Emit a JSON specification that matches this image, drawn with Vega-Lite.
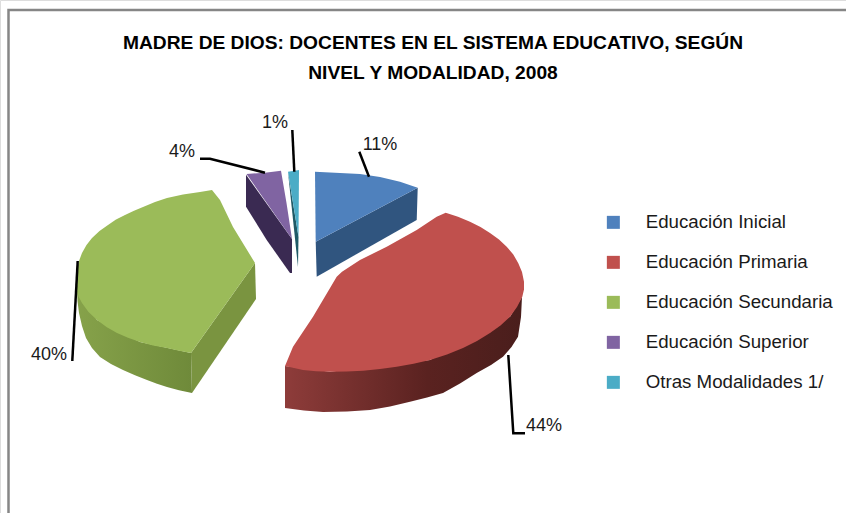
{
"$schema":"https://vega.github.io/schema/vega-lite/v6.json",
"width":846,"height":513,"padding":0,"autosize":"none",
"background":"#ffffff",
"title":{"text":["MADRE DE DIOS: DOCENTES EN EL SISTEMA  EDUCATIVO, SEGÚN","NIVEL Y MODALIDAD, 2008"],"anchor":"middle","dx":10,"dy":87,"font":"Liberation Sans","fontSize":19.2,"fontWeight":"bold","color":"#000000","lineHeight":30},
"datasets":{
"top":[
{"s":"Educación Inicial","i":1,"x":315,"y":171.7},{"s":"Educación Inicial","i":2,"x":360,"y":174},{"s":"Educación Inicial","i":3,"x":380,"y":177},{"s":"Educación Inicial","i":4,"x":400,"y":181.7},{"s":"Educación Inicial","i":5,"x":417.7,"y":187.7},{"s":"Educación Inicial","i":6,"x":315.7,"y":241.7},
{"s":"Educación Primaria","i":1,"x":445.7,"y":212.7},{"s":"Educación Primaria","i":2,"x":458,"y":216.7},{"s":"Educación Primaria","i":3,"x":470,"y":221.7},{"s":"Educación Primaria","i":4,"x":480.5,"y":227},{"s":"Educación Primaria","i":5,"x":490,"y":233},{"s":"Educación Primaria","i":6,"x":499,"y":239.5},{"s":"Educación Primaria","i":7,"x":506.7,"y":246.7},{"s":"Educación Primaria","i":8,"x":513.3,"y":254.5},{"s":"Educación Primaria","i":9,"x":518.3,"y":263.3},{"s":"Educación Primaria","i":10,"x":522,"y":272},{"s":"Educación Primaria","i":11,"x":524,"y":281.7},{"s":"Educación Primaria","i":12,"x":524,"y":289.5},{"s":"Educación Primaria","i":13,"x":522.3,"y":296.7},{"s":"Educación Primaria","i":14,"x":517,"y":307},{"s":"Educación Primaria","i":15,"x":510,"y":316.7},{"s":"Educación Primaria","i":16,"x":500.5,"y":325.5},{"s":"Educación Primaria","i":17,"x":490,"y":333},{"s":"Educación Primaria","i":18,"x":477,"y":341},{"s":"Educación Primaria","i":19,"x":463,"y":348},{"s":"Educación Primaria","i":20,"x":447,"y":354.5},{"s":"Educación Primaria","i":21,"x":430,"y":360},{"s":"Educación Primaria","i":22,"x":413.5,"y":363.8},{"s":"Educación Primaria","i":23,"x":396.7,"y":366.7},{"s":"Educación Primaria","i":24,"x":380,"y":369},{"s":"Educación Primaria","i":25,"x":363,"y":370.7},{"s":"Educación Primaria","i":26,"x":346.5,"y":371.5},{"s":"Educación Primaria","i":27,"x":330,"y":371.7},{"s":"Educación Primaria","i":28,"x":316,"y":371.2},{"s":"Educación Primaria","i":29,"x":303,"y":370},{"s":"Educación Primaria","i":30,"x":285,"y":366},{"s":"Educación Primaria","i":31,"x":293,"y":346.7},{"s":"Educación Primaria","i":32,"x":313,"y":316.7},{"s":"Educación Primaria","i":33,"x":336.7,"y":276.7},{"s":"Educación Primaria","i":34,"x":342,"y":271.7},{"s":"Educación Primaria","i":35,"x":360,"y":260},{"s":"Educación Primaria","i":36,"x":386.7,"y":246.7},{"s":"Educación Primaria","i":37,"x":416.7,"y":230},{"s":"Educación Primaria","i":38,"x":436.7,"y":216.7},
{"s":"Educación Secundaria","i":1,"x":212,"y":190},{"s":"Educación Secundaria","i":2,"x":220,"y":200},{"s":"Educación Secundaria","i":3,"x":233,"y":227},{"s":"Educación Secundaria","i":4,"x":255,"y":263},{"s":"Educación Secundaria","i":5,"x":191,"y":353},{"s":"Educación Secundaria","i":6,"x":179,"y":350.7},{"s":"Educación Secundaria","i":7,"x":167,"y":348},{"s":"Educación Secundaria","i":8,"x":153,"y":345.4},{"s":"Educación Secundaria","i":9,"x":140,"y":342},{"s":"Educación Secundaria","i":10,"x":128,"y":337.8},{"s":"Educación Secundaria","i":11,"x":117,"y":333},{"s":"Educación Secundaria","i":12,"x":106.5,"y":327},{"s":"Educación Secundaria","i":13,"x":97,"y":320},{"s":"Educación Secundaria","i":14,"x":88.5,"y":312},{"s":"Educación Secundaria","i":15,"x":82,"y":303},{"s":"Educación Secundaria","i":16,"x":78.5,"y":296.5},{"s":"Educación Secundaria","i":17,"x":77,"y":290},{"s":"Educación Secundaria","i":18,"x":76.3,"y":280},{"s":"Educación Secundaria","i":19,"x":77,"y":270},{"s":"Educación Secundaria","i":20,"x":79,"y":261},{"s":"Educación Secundaria","i":21,"x":82,"y":253},{"s":"Educación Secundaria","i":22,"x":86.5,"y":245},{"s":"Educación Secundaria","i":23,"x":92,"y":238},{"s":"Educación Secundaria","i":24,"x":99.5,"y":231},{"s":"Educación Secundaria","i":25,"x":108,"y":225},{"s":"Educación Secundaria","i":26,"x":116,"y":219.6},{"s":"Educación Secundaria","i":27,"x":125,"y":215},{"s":"Educación Secundaria","i":28,"x":134,"y":210.8},{"s":"Educación Secundaria","i":29,"x":143,"y":207},{"s":"Educación Secundaria","i":30,"x":155,"y":202},{"s":"Educación Secundaria","i":31,"x":167,"y":198},{"s":"Educación Secundaria","i":32,"x":183,"y":194.5},{"s":"Educación Secundaria","i":33,"x":200,"y":192},
{"s":"Educación Superior","i":1,"x":246.5,"y":174},{"s":"Educación Superior","i":2,"x":265,"y":172.7},{"s":"Educación Superior","i":3,"x":281,"y":170.7},{"s":"Educación Superior","i":4,"x":286.5,"y":203},{"s":"Educación Superior","i":5,"x":292,"y":239},
{"s":"Otras Modalidades 1/","i":1,"x":288,"y":171.7},{"s":"Otras Modalidades 1/","i":2,"x":299,"y":170},{"s":"Otras Modalidades 1/","i":3,"x":298.5,"y":237}
],
"side":[
{"f":"blue","i":1,"x":417.7,"y":187.7},{"f":"blue","i":2,"x":416.7,"y":220},{"f":"blue","i":3,"x":316.7,"y":276.7},{"f":"blue","i":4,"x":315.7,"y":241.7},
{"f":"red","i":1,"x":285,"y":366},{"f":"red","i":2,"x":285,"y":408},{"f":"red","i":3,"x":304,"y":410.5},{"f":"red","i":4,"x":323,"y":412},{"f":"red","i":5,"x":347,"y":411.5},{"f":"red","i":6,"x":370,"y":410},{"f":"red","i":7,"x":390,"y":406.5},{"f":"red","i":8,"x":410,"y":401.7},{"f":"red","i":9,"x":427,"y":397.5},{"f":"red","i":10,"x":443,"y":393},{"f":"red","i":11,"x":460,"y":383.5},{"f":"red","i":12,"x":476.7,"y":373},{"f":"red","i":13,"x":491,"y":365},{"f":"red","i":14,"x":503,"y":356.7},{"f":"red","i":15,"x":511.5,"y":347},{"f":"red","i":16,"x":518,"y":336.7},{"f":"red","i":17,"x":521,"y":317},{"f":"red","i":18,"x":522,"y":296.7},{"f":"red","i":19,"x":510,"y":316.7},{"f":"red","i":20,"x":430,"y":360},{"f":"red","i":21,"x":330,"y":371.7},
{"f":"greenR","i":1,"x":255,"y":263},{"f":"greenR","i":2,"x":256,"y":299},{"f":"greenR","i":3,"x":192,"y":393},{"f":"greenR","i":4,"x":191,"y":353},
{"f":"greenL","i":1,"x":191,"y":353},{"f":"greenL","i":2,"x":192,"y":393},{"f":"greenL","i":3,"x":179,"y":390.2},{"f":"greenL","i":4,"x":167,"y":387},{"f":"greenL","i":5,"x":157,"y":383.8},{"f":"greenL","i":6,"x":147,"y":380},{"f":"greenL","i":7,"x":135,"y":375.3},{"f":"greenL","i":8,"x":123,"y":370},{"f":"greenL","i":9,"x":111,"y":364},{"f":"greenL","i":10,"x":100,"y":357},{"f":"greenL","i":11,"x":92,"y":348},{"f":"greenL","i":12,"x":86,"y":338},{"f":"greenL","i":13,"x":82,"y":326},{"f":"greenL","i":14,"x":79,"y":313},{"f":"greenL","i":15,"x":77.5,"y":301},{"f":"greenL","i":16,"x":77,"y":290},{"f":"greenL","i":17,"x":97,"y":320},{"f":"greenL","i":18,"x":140,"y":342},
{"f":"purple","i":1,"x":246,"y":174.7},{"f":"purple","i":2,"x":246,"y":206.7},{"f":"purple","i":3,"x":266.7,"y":240},{"f":"purple","i":4,"x":290,"y":273},{"f":"purple","i":5,"x":292,"y":273},{"f":"purple","i":6,"x":292,"y":239},
{"f":"teal","i":1,"x":288,"y":172},{"f":"teal","i":2,"x":298,"y":267},{"f":"teal","i":3,"x":298.5,"y":237}
],
"leaders":[
{"k":"1%","i":1,"x":292.3,"y":130},{"k":"1%","i":2,"x":294.3,"y":171.7},
{"k":"4%","i":1,"x":200,"y":158.7},{"k":"4%","i":2,"x":210,"y":158.7},{"k":"4%","i":3,"x":265,"y":172.7},
{"k":"40%","i":1,"x":72.3,"y":361},{"k":"40%","i":2,"x":77.7,"y":261},
{"k":"11%","i":1,"x":359.3,"y":151.7},{"k":"11%","i":2,"x":369,"y":176.7},
{"k":"44%","i":1,"x":508.3,"y":355},{"k":"44%","i":2,"x":513.3,"y":433.3},{"k":"44%","i":3,"x":525,"y":433.3}
],
"labels":[
{"s":"Educación Inicial","share":11,"t":"11%","x":380,"y":145},
{"s":"Educación Primaria","share":44,"t":"44%","x":544,"y":426},
{"s":"Educación Secundaria","share":40,"t":"40%","x":49,"y":355},
{"s":"Educación Superior","share":4,"t":"4%","x":182,"y":152},
{"s":"Otras Modalidades 1/","share":1,"t":"1%","x":275,"y":123}
],
"frame":[{"i":1,"x":8.5,"y":513},{"i":2,"x":8.5,"y":10},{"i":3,"x":846,"y":10}]
},
"encoding":{
"x":{"field":"x","type":"quantitative","scale":{"domain":[0,846],"nice":false,"zero":false},"axis":null},
"y":{"field":"y","type":"quantitative","scale":{"domain":[513,0],"nice":false,"zero":false},"axis":null},
"order":{"field":"i","type":"ordinal"}
},
"resolve":{"scale":{"fill":"independent"}},
"layer":[
{"data":{"name":"frame"},"mark":{"type":"line","stroke":"#868686","strokeWidth":2.5,"clip":false}},
{"data":{"name":"side"},"transform":[{"filter":"datum.f=='blue'"}],"mark":{"type":"line","fill":"#30557F","stroke":null}},
{"data":{"name":"side"},"transform":[{"filter":"datum.f=='purple'"}],"mark":{"type":"line","fill":"#3A2A52","stroke":null}},
{"data":{"name":"side"},"transform":[{"filter":"datum.f=='teal'"}],"mark":{"type":"line","fill":"#1F5A66","stroke":null}},
{"data":{"name":"side"},"transform":[{"filter":"datum.f=='greenR'"}],"mark":{"type":"line","fill":"#7A9440","stroke":null}},
{"data":{"name":"side"},"transform":[{"filter":"datum.f=='greenL'"}],"mark":{"type":"line","stroke":null,"fill":{"gradient":"linear","x1":0,"y1":0,"x2":1,"y2":0,"stops":[{"offset":0,"color":"#86A24A"},{"offset":1,"color":"#6F8A3A"}]}}},
{"data":{"name":"side"},"transform":[{"filter":"datum.f=='red'"}],"mark":{"type":"line","stroke":null,"fill":{"gradient":"linear","x1":0,"y1":0,"x2":1,"y2":0,"stops":[{"offset":0,"color":"#8E3C3A"},{"offset":0.6,"color":"#5A2220"},{"offset":1,"color":"#4A1E1C"}]}}},
{"data":{"name":"top"},"mark":{"type":"line","stroke":null},"encoding":{
"fill":{"field":"s","type":"nominal","scale":{"domain":["Educación Inicial","Educación Primaria","Educación Secundaria","Educación Superior","Otras Modalidades 1/"],"range":["#4F81BD","#C0504D","#9BBB59","#8064A2","#4BACC6"]},
"legend":{"title":null,"orient":"none","legendX":604,"legendY":213,"symbolType":"square","symbolSize":169,"symbolStrokeWidth":0,"labelFont":"Liberation Sans","labelFontSize":18.7,"labelColor":"#1a1a1a","labelOffset":23,"rowPadding":20,"labelLimit":240,"symbolOpacity":1}}}},
{"data":{"name":"leaders"},"mark":{"type":"line","stroke":"#000000","strokeWidth":2.5},"encoding":{"detail":{"field":"k"}}},
{"data":{"name":"labels"},"mark":{"type":"text","font":"Liberation Sans","fontSize":18,"color":"#1a1a1a","align":"center","baseline":"middle"},"encoding":{"text":{"field":"t"},"order":{"field":"share","type":"quantitative"}}}
]
}
